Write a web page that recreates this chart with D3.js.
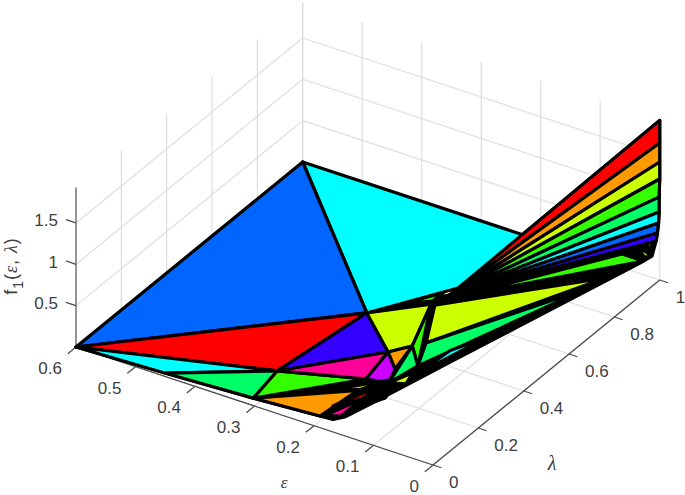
<!DOCTYPE html>
<html>
<head>
<meta charset="utf-8">
<script src="https://cdn.jsdelivr.net/npm/d3@7"></script>
<style>
  html, body { margin: 0; background: white; }
</style>
</head>
<body>
<div id="chart"></div>
<script>
// Tick labels
var epsTicks = [0.6, 0.5, 0.4, 0.3, 0.2, 0.1, 0];
var lamTicks = [0, 0.2, 0.4, 0.6, 0.8, 1];
var zTicks = [0.5, 1, 1.5];
var zTop = 1.93;

// Surface vertices (epsilon, lambda, f1)
var vertEps = [0.6, 0.6, 0.29, 0.22, 0.211, 0.211, 0, 0, 0, 0,
  0.001, 0.001, 0.002, 0.004, 0.006, 0, 0, 0.197, 0.047, 0.005,
  0.009, 0.002, 0.006, 0.027, 0.003, 0.01, 0.043, 0.015, 0.034, 0.22,
  0.175, 0.195, 0.162, 0.139, 0.149, 0.182, 0.306, 0.135, 0.127, 0.214,
  0.032, 0.163, 0.039, 0.123, 0.091, 0.117, 0.254, 0.222, 0.223, 0.45,
  0.302, 0.175, 0.19, 0.214, 0.15, 0.174, 0.182, 0.154, 0.158, 0.185,
  0.164, 0.165, 0.139, 0.136, 0.131, 0.168, 0.159, 0.139, 0.117, 0.1];
var vertLam = [0, 1, 0.469, 1, 0.665, 0.628, 1, 1, 1, 1,
  1, 1, 1, 1, 1, 0.966, 0.913, 0.637, 0.957, 0.941,
  0.967, 0.975, 0.972, 0.976, 0.97, 0.957, 0.96, 0.952, 0.97, 0.569,
  0.368, 0.314, 0.258, 0.298, 0.196, 0.182, 0.116, 0.265, 0.214, 0.57,
  0.843, 0.397, 0.776, 0.244, 0.489, 0.383, 0.534, 0.63, 0.582, 0,
  0, 0.128, 0, 0.084, 0.213, 0.134, 0.036, 0.179, 0.1, 0.009,
  0.122, 0.027, 0.104, 0.172, 0.133, 0, 0.028, 0.099, 0.207, 0.338];
var vertZ = [0, 0, 0.1, 0, 0.15, 0.15, 1.93, 1.657, 1.427, 1.221,
  1, 0.82, 0.684, 0.559, 0.457, 0.366, 0.4, 0.15, 0.3, 0.35,
  0.5, 0.5, 0.4, 0.4, 0.35, 0.35, 0.35, 0.35, 0.35, 0.15,
  0.2, 0.2, 0.2, 0.2, 0.2, 0.2, 0.15, 0.2, 0.2, 0.15,
  0.3, 0.2, 0.3, 0.25, 0.25, 0.25, 0.15, 0.15, 0.15, 0.04,
  0.09, 0.2, 0.14, 0.2, 0.2, 0.2, 0.2, 0.2, 0.2, 0.14,
  0.14, 0.14, 0.2, 0.2, 0.2, 0.15, 0.14, 0.2, 0.25, 0.25];

// Faces as vertex indices, in drawing order, with their colour level
var faces = [[1,2,4,3], [0,1,2], [0,2,36], [0,36,49], [49,36,50], [36,35,50], [50,51,52],
  [2,36,31], [36,31,35], [31,32,34,35], [2,29,30,31], [31,30,32], [29,30,33], [30,33,34],
  [34,37,38], [53,54,55], [56,57,58], [59,60,61], [62,63,64], [39,40,41], [41,33,42],
  [43,44,45], [46,47,48], [17,18,19], [5,6,7], [5,7,8], [5,8,9], [5,9,10], [5,10,11],
  [5,11,12], [5,12,13], [5,13,14], [20,21,22], [23,24,25], [26,27,28]];
var faceLevel = [5, 6, 0, 5, 4, 3, 1,
  7, 9, 8, 2, 1, 3, 4,
  2, 2, 0, 9, 6, 2, 4,
  5, 3, 3, 0, 1, 2, 3, 4,
  5, 6, 7, 1, 2, 3];
var colorLevels = ["#ff0000", "#ff9900", "#ccff00", "#33ff00", "#00ff66",
  "#00ffff", "#0066ff", "#3300ff", "#cc00ff", "#ff0099"];

// Where the mesh lines are too dense to tell apart
var denseOutline = [0,50,52,65,66,67,68,69,16,15,14,13,12,11,10,9,8,7,6,5,2];

const width = 685;
const height = 495;

var svg = d3.select("#chart").append("svg")
  .attr("width", width)
  .attr("height", height)
  .style("display", "block")
  .style("background-color", "white");

// Oblique view: each data axis moves the point along its own screen direction
var origin = [76, 347];
var epsX = d3.scaleLinear().domain([0.6, 0]).range([0, 357]);
var epsY = d3.scaleLinear().domain([0.6, 0]).range([0, 118]);
var lamX = d3.scaleLinear().domain([0, 1]).range([0, 226.7]);
var lamY = d3.scaleLinear().domain([0, 1]).range([0, -185]);
var zY = d3.scaleLinear().domain([0, 1]).range([0, -82.7]);

function project(e, l, z) {
  return [origin[0] + epsX(e) + lamX(l), origin[1] + epsY(e) + lamY(l) + zY(z)];
}

var line = d3.line();
var closedPath = function(pts) { return line(pts) + "Z"; };
var vertex = function(i) { return project(vertEps[i], vertLam[i], vertZ[i]); };

// Grid on floor and the two back walls
var grid = svg.append("g")
  .attr("fill", "none")
  .attr("stroke", "#dedede")
  .attr("stroke-width", 1.2);

function gridLine(a, b) {
  grid.append("path").attr("d", line([project(a[0], a[1], a[2]), project(b[0], b[1], b[2])]));
}

epsTicks.forEach(function(e) {
  gridLine([e, 0, 0], [e, 1, 0]);
  gridLine([e, 1, 0], [e, 1, zTop]);
});
lamTicks.forEach(function(l) {
  gridLine([0.6, l, 0], [0, l, 0]);
  gridLine([0.6, l, 0], [0.6, l, zTop]);
});
zTicks.forEach(function(z) {
  gridLine([0.6, 0, z], [0.6, 1, z]);
  gridLine([0.6, 1, z], [0, 1, z]);
});

// Axis lines and ticks
var axes = svg.append("g")
  .attr("fill", "none")
  .attr("stroke", "#4d4d4d")
  .attr("stroke-width", 1.3);

function axisLine(a, b) {
  axes.append("path").attr("d", line([project(a[0], a[1], a[2]), project(b[0], b[1], b[2])]));
}

axisLine([0.6, 0, 0], [0, 0, 0]);
axisLine([0, 0, 0], [0, 1, 0]);
axes.append("path")
  .attr("d", line([project(0.6, 0, 0), project(0.6, 0, zTop)]))
  .attr("stroke", "#8c8c8c")
  .attr("stroke-width", 1.8);

epsTicks.forEach(function(e) { axisLine([e, 0, 0], [e, -0.036, 0]); });
lamTicks.forEach(function(l) { axisLine([0, l, 0], [-0.014, l, 0]); });
zTicks.forEach(function(z) { axisLine([0.6, 0, z], [0.617, 0, z]); });

// Tick labels
var labels = svg.append("g")
  .attr("font-family", "'Liberation Sans', Arial, sans-serif")
  .attr("font-size", 17)
  .attr("fill", "#404040");

epsTicks.forEach(function(e) {
  var p = project(e, 0, 0);
  labels.append("text").attr("x", p[0] - 14).attr("y", p[1] + 27)
    .attr("text-anchor", "end").text(e);
});
lamTicks.forEach(function(l) {
  var p = project(0, l, 0);
  labels.append("text").attr("x", p[0] + 16).attr("y", p[1] + 23).text(l);
});
zTicks.forEach(function(z) {
  var p = project(0.6, 0, z);
  labels.append("text").attr("x", p[0] - 18).attr("y", p[1] + 3.5)
    .attr("text-anchor", "end").text(z);
});

// Axis titles
labels.append("text")
  .attr("x", 284).attr("y", 488)
  .attr("text-anchor", "middle")
  .attr("font-family", "'Liberation Serif', serif")
  .attr("font-style", "italic")
  .text("\u03b5");
labels.append("text")
  .attr("x", 552).attr("y", 470)
  .attr("text-anchor", "middle")
  .attr("font-family", "'Liberation Serif', serif")
  .attr("font-style", "italic")
  .attr("font-size", 20)
  .text("\u03bb");

var zTitle = labels.append("text")
  .attr("transform", "translate(17,266) rotate(-90)")
  .attr("text-anchor", "middle")
  .attr("font-size", 18)
  .attr("letter-spacing", 1);
zTitle.append("tspan").text("f");
zTitle.append("tspan").attr("dy", 6).attr("font-size", 14).text("1");
zTitle.append("tspan").attr("dy", -6).text("(");
zTitle.append("tspan").attr("font-family", "'Liberation Serif', serif").attr("font-style", "italic").text("\u03b5");
zTitle.append("tspan").text(", ");
zTitle.append("tspan").attr("font-family", "'Liberation Serif', serif").attr("font-style", "italic").text("\u03bb");
zTitle.append("tspan").text(")");

// Surface
var surface = svg.append("g")
  .attr("stroke", "black")
  .attr("stroke-width", 3.2)
  .attr("stroke-linejoin", "round");

surface.append("path")
  .attr("d", closedPath(denseOutline.map(vertex)))
  .attr("fill", "black");

surface.selectAll("path.face")
  .data(faces)
  .enter().append("path")
  .attr("class", "face")
  .attr("d", function(d) { return closedPath(d.map(vertex)); })
  .attr("fill", function(d, i) { return colorLevels[faceLevel[i]]; });
</script>
</body>
</html>
